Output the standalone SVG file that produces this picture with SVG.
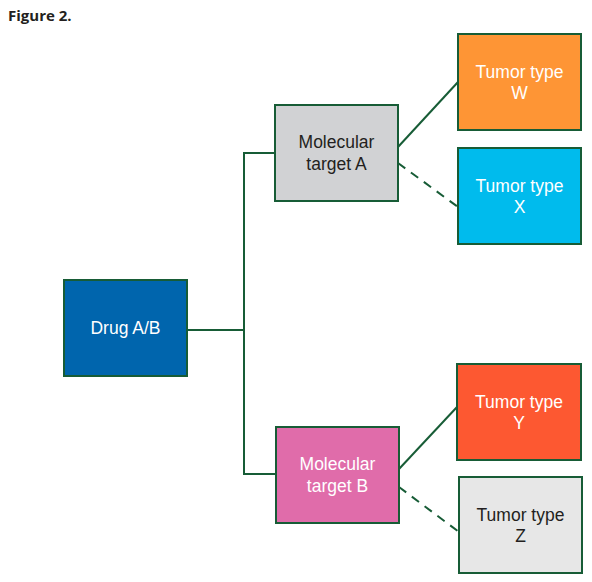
<svg xmlns="http://www.w3.org/2000/svg" width="592" height="582" viewBox="0 0 592 582">
<style>
.box{stroke:#175c36;stroke-width:2}
.t{font-family:"Liberation Sans",Arial,sans-serif;font-size:17.5px;text-anchor:middle}
.w{fill:#ffffff}
.d{fill:#231f20}
.c{stroke:#175c36;stroke-width:2;fill:none}
.dash{stroke-dasharray:9,7}
</style>
<rect width="592" height="582" fill="#ffffff"/>
<text x="8" y="21" font-family="'Open Sans','Noto Sans',sans-serif" font-weight="bold" font-size="15" fill="#231f20">Figure 2.</text>
<g id="connectors">
<polyline class="c" points="187,330 244,330"/>
<polyline class="c" points="275,153 244,153 244,474 276,474"/>
<line class="c" x1="398" y1="147" x2="458" y2="82"/>
<line class="c dash" x1="398" y1="163" x2="458" y2="207"/>
<line class="c" x1="399" y1="469" x2="457" y2="407"/>
<line class="c dash" x1="399" y1="487" x2="459" y2="532"/>
</g>
<g id="drug">
<rect class="box" x="64" y="280" width="123" height="96" fill="#0065ad"/>
<text class="t w" x="125.5" y="334">Drug A/B</text>
</g>
<g id="targetA">
<rect class="box" x="275" y="105" width="123" height="96" fill="#d1d2d4"/>
<text class="t d" x="336.5" y="148">Molecular</text>
<text class="t d" x="336.5" y="170">target A</text>
</g>
<g id="targetB">
<rect class="box" x="276" y="427" width="123" height="96" fill="#e06caa"/>
<text class="t w" x="337.5" y="470">Molecular</text>
<text class="t w" x="337.5" y="492">target B</text>
</g>
<g id="tumorW">
<rect class="box" x="458" y="34" width="123" height="96" fill="#fe9535"/>
<text class="t w" x="519.5" y="78">Tumor type</text>
<text class="t w" x="519.5" y="99">W</text>
</g>
<g id="tumorX">
<rect class="box" x="458" y="148" width="123" height="96" fill="#00bbed"/>
<text class="t w" x="519.5" y="192">Tumor type</text>
<text class="t w" x="519.5" y="213">X</text>
</g>
<g id="tumorY">
<rect class="box" x="457" y="364" width="124" height="96" fill="#fd5831"/>
<text class="t w" x="519" y="408">Tumor type</text>
<text class="t w" x="519" y="429">Y</text>
</g>
<g id="tumorZ">
<rect class="box" x="459" y="477" width="123" height="96" fill="#e7e7e7"/>
<text class="t d" x="520.5" y="521">Tumor type</text>
<text class="t d" x="520.5" y="542">Z</text>
</g>
</svg>
